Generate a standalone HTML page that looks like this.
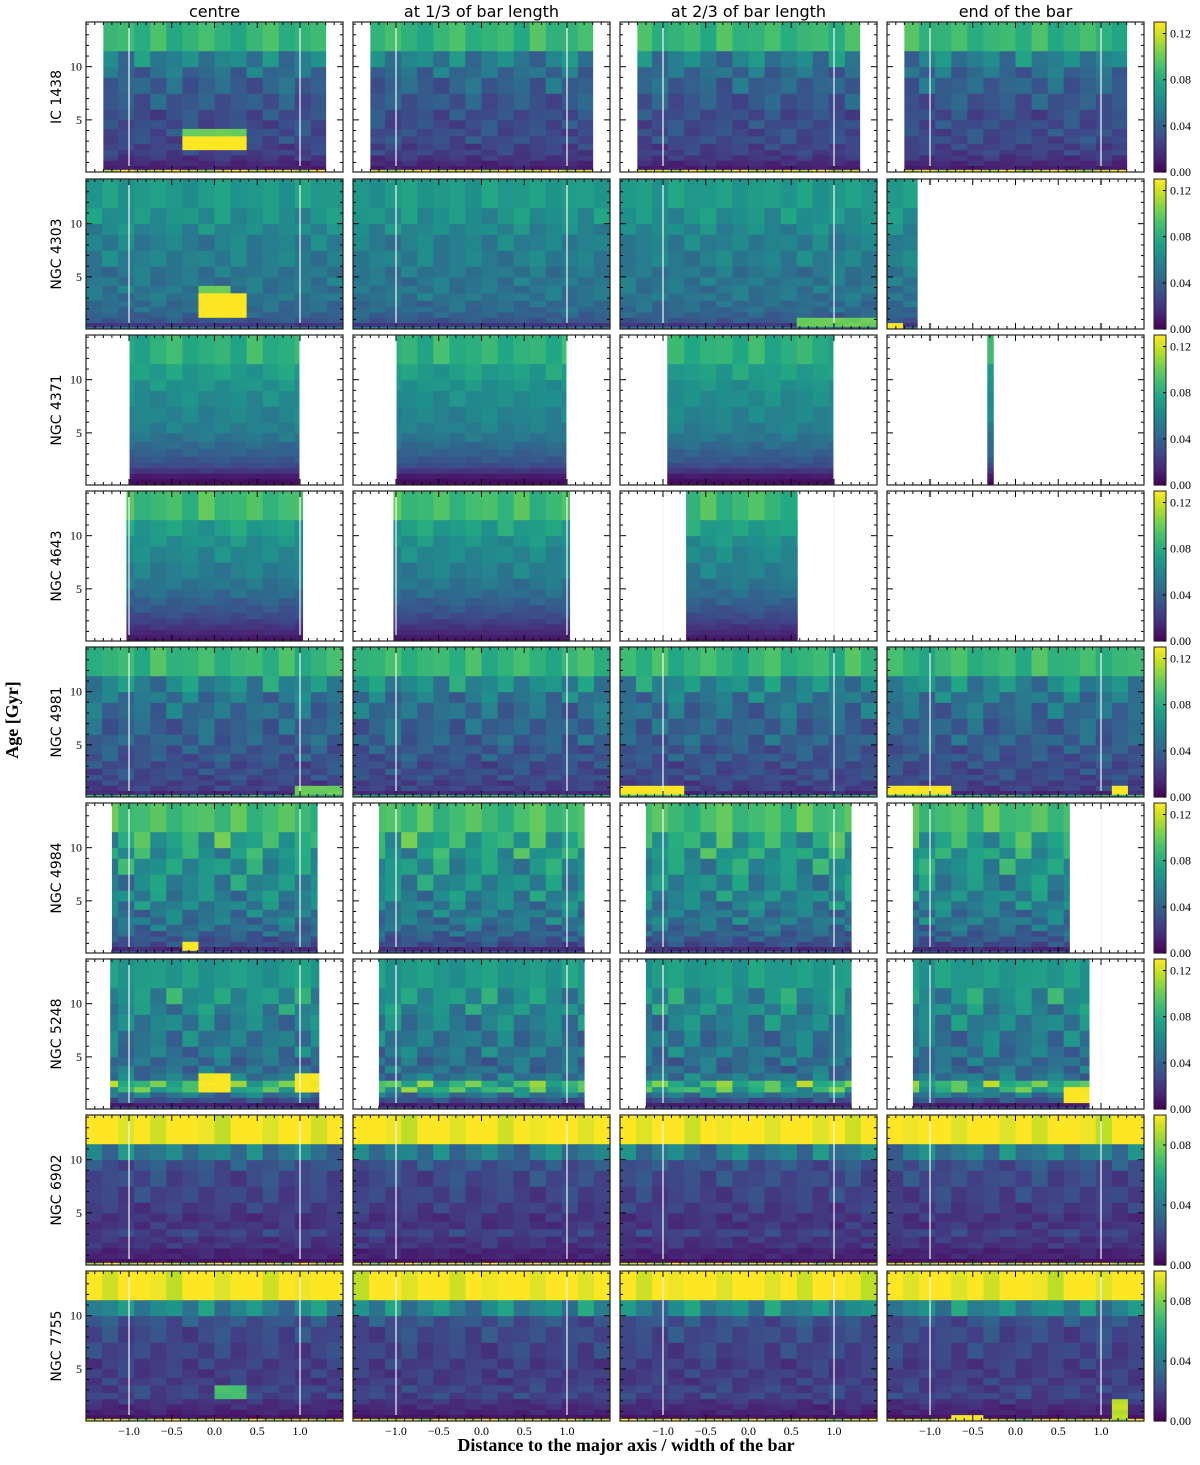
<!DOCTYPE html>
<html><head><meta charset="utf-8"><style>
body{margin:0;background:#fff;}
.sans{font-family:"DejaVu Sans","Liberation Sans",sans-serif;}
.serif{font-family:"Liberation Serif",serif;}
</style></head><body>
<svg id="fig" width="1200" height="1460" viewBox="0 0 1200 1460" xmlns="http://www.w3.org/2000/svg"></svg>
<script>
// ---- data ----
const galaxies = ["IC 1438","NGC 4303","NGC 4371","NGC 4643","NGC 4981","NGC 4984","NGC 5248","NGC 6902","NGC 7755"];
const columnTitles = ["centre","at 1/3 of bar length","at 2/3 of bar length","end of the bar"];
const ageEdges = [0.1,0.35,0.7,1.2,1.7,2.2,2.8,3.5,4.2,5,6,7.5,9,10,11.5,14.2];
const xEdgesCount = 16;
const cbarMax = [0.13,0.13,0.13,0.13,0.13,0.13,0.13,0.1,0.1];
const cbarTicks = [[0,0.04,0.08,0.12],[0,0.04,0.08,0.12],[0,0.04,0.08,0.12],[0,0.04,0.08,0.12],[0,0.04,0.08,0.12],[0,0.04,0.08,0.12],[0,0.04,0.08,0.12],[0,0.04,0.08],[0,0.04,0.08]];
const xTicks = [-1.0,-0.5,0.0,0.5,1.0];
const xTickLabels = ["\u22121.0","\u22120.5","0.0","0.5","1.0"];
const yTicks = [5,10];
// age profiles (young -> old), one per galaxy row
const profiles = [
 [0.12,0.01,0.015,0.02,0.025,0.025,0.03,0.03,0.03,0.03,0.035,0.04,0.045,0.055,0.085],
 [0.05,0.02,0.035,0.04,0.045,0.045,0.05,0.05,0.05,0.05,0.055,0.055,0.06,0.065,0.07],
 [0.005,0.005,0.01,0.02,0.03,0.035,0.04,0.045,0.05,0.055,0.058,0.062,0.066,0.072,0.082],
 [0.005,0.01,0.015,0.02,0.025,0.03,0.035,0.04,0.045,0.05,0.055,0.06,0.065,0.072,0.088],
 [0.08,0.015,0.025,0.025,0.03,0.03,0.03,0.035,0.035,0.04,0.04,0.045,0.05,0.06,0.085],
 [0.03,0.015,0.03,0.035,0.04,0.045,0.05,0.05,0.055,0.058,0.06,0.065,0.07,0.075,0.09],
 [0.03,0.01,0.03,0.05,0.08,0.085,0.05,0.045,0.045,0.05,0.05,0.055,0.06,0.065,0.07],
 [0.09,0.005,0.01,0.01,0.015,0.015,0.02,0.015,0.015,0.018,0.02,0.022,0.025,0.04,0.1],
 [0.09,0.005,0.01,0.012,0.015,0.02,0.02,0.018,0.018,0.018,0.02,0.022,0.025,0.045,0.1]
];
// patchiness amplitude per galaxy row
const rowPatchiness = [1.5,0.8,0.5,0.6,1.5,1.5,1.5,1.5,1.5];
// spatial extent of data per panel [row][col] = [xmin,xmax] or null
const extents = [
 [[-1.3,1.3],[-1.3,1.3],[-1.3,1.3],[-1.3,1.3]],
 [[-1.5,1.5],[-1.5,1.5],[-1.5,1.5],[-1.5,-1.15]],
 [[-1.0,1.0],[-1.0,1.0],[-0.95,1.0],[-0.33,-0.26]],
 [[-1.03,1.03],[-1.03,1.03],[-0.73,0.57],null],
 [[-1.5,1.5],[-1.5,1.5],[-1.5,1.5],[-1.5,1.5]],
 [[-1.2,1.2],[-1.2,1.2],[-1.2,1.2],[-1.2,0.63]],
 [[-1.22,1.22],[-1.2,1.2],[-1.2,1.2],[-1.2,0.86]],
 [[-1.5,1.5],[-1.5,1.5],[-1.5,1.5],[-1.5,1.5]],
 [[-1.5,1.5],[-1.5,1.5],[-1.5,1.5],[-1.5,1.5]]
];
// patchiness factors
const colFactors = [1.1,0.9,1.2,0.85,1.0,1.15,0.95,0.8,1.05,1.2,0.9,1.0,1.1,0.85,1.25,0.95,1.0,1.15,0.9,1.05];
// hot spots: [row,col,ageMin,ageMax,xMin,xMax,value]
const hotSpots = [
 [0,0,2.2,3.5,-0.4,0.45,0.135],[0,0,3.5,4.2,-0.4,0.45,0.1],
 [1,0,1.2,3.5,-0.2,0.3,0.14],[1,0,3.5,4.2,-0.1,0.2,0.1],[1,2,0.35,1.2,0.6,1.5,0.1],[1,3,0.1,0.7,-1.5,-1.3,0.13],
 [4,2,0.35,1.2,-1.5,-0.8,0.13],[4,3,0.35,1.2,-1.5,-0.8,0.13],[4,3,0.35,1.2,1.1,1.3,0.13],[4,0,0.35,1.2,0.9,1.5,0.1],
 [5,0,0.35,1.2,-0.35,-0.1,0.13],
 [6,0,1.7,3.5,-0.15,0.2,0.13],[6,0,1.7,3.5,1.0,1.22,0.13],[6,3,0.7,2.2,0.6,0.86,0.13],
 [8,0,2.2,3.5,0,0.3,0.07],[8,3,0.1,0.7,-0.75,-0.3,0.1],[8,3,0.35,2.2,1.1,1.3,0.09]
];
// ---- layout ----
const NS="http://www.w3.org/2000/svg";
const svg=document.getElementById('fig');
const panelX=[86,353,620,887], panelW=257, panelH=150;
const rowY=[22,179,335,491,647,803,959,1115,1271];
const XMIN=-1.503, XMAX=1.503, YMIN=0.1, YMAX=14.2;
function el(tag,attrs,parent){const e=document.createElementNS(NS,tag);for(const k in attrs)e.setAttribute(k,attrs[k]);(parent||svg).appendChild(e);return e;}
const V=[[68,1,84],[72,35,116],[64,67,135],[52,94,141],[41,120,142],[32,144,140],[34,167,132],[68,190,112],[121,209,81],[189,222,38],[253,231,37]];
function viridis(t){t=Math.max(0,Math.min(1,t));const p=t*(V.length-1),i=Math.min(Math.floor(p),V.length-2),f=p-i;const c=V[i].map((a,k)=>Math.round(a+(V[i+1][k]-a)*f));return `rgb(${c[0]},${c[1]},${c[2]})`;}
const nBins=ageEdges.length-1;
for(let r=0;r<9;r++){
 const y0=rowY[r];
 const sy=a=>y0+panelH*(YMAX-a)/(YMAX-YMIN);
 for(let c=0;c<4;c++){
  const x0=panelX[c];
  const sx=v=>x0+panelW*(v-XMIN)/(XMAX-XMIN);
  const g=el('g',{},svg);
  
  
  const ext=extents[r][c];
  if(ext){
   const dx=(XMAX-XMIN)/xEdgesCount;
   for(let i=0;i<xEdgesCount;i++){
    let a=XMIN+i*dx,b=a+dx;
    a=Math.max(a,ext[0]);b=Math.min(b,ext[1]);
    if(b<=a)continue;
    const xm=(a+b)/2;
    for(let j=0;j<nBins;j++){
     const f=colFactors[(i+r*3+c*5+j*7)%20];
     const amp=(j===0||j===nBins-1)?0.5:rowPatchiness[r];
     let v=profiles[r][j]*(1+(f-1)*amp);
     const am=(ageEdges[j]+ageEdges[j+1])/2;
     for(const h of hotSpots){if(h[0]===r&&h[1]===c&&am>=h[2]&&am<=h[3]&&xm>=h[4]&&xm<=h[5])v=h[6]*(0.9+0.1*f);}
     const rect=el('rect',{x:sx(a),y:sy(ageEdges[j+1]),width:sx(b)-sx(a)+0.5,height:sy(ageEdges[j])-sy(ageEdges[j+1])+0.5,fill:viridis(v/cbarMax[r])},g);
     
     
    }
   }
  }
  const wide=ext&&ext[1]-ext[0]>1;
  for(const xv of [-1,1]){
   if(wide){
    const ln=el('line',{x1:sx(xv),x2:sx(xv),y1:y0,y2:y0+panelH,stroke:'#f4f4f4','stroke-width':1.2},g);
    
    
   } else {
    el('line',{x1:sx(xv),x2:sx(xv),y1:y0,y2:y0+6,stroke:'#bbb','stroke-width':2.5},g);
    el('line',{x1:sx(xv),x2:sx(xv),y1:y0+panelH-6,y2:y0+panelH,stroke:'#bbb','stroke-width':2.5},g);
   }
  }
  for(let k=-14;k<=14;k++){const v=k/10;if(Math.abs(v)>1.5)continue;const major=k%5===0;const L=major?6:3;
   el('line',{x1:sx(v),x2:sx(v),y1:y0,y2:y0+L,stroke:'#000','stroke-width':1},g);
   el('line',{x1:sx(v),x2:sx(v),y1:y0+panelH,y2:y0+panelH-L,stroke:'#000','stroke-width':1},g);}
  for(let a=1;a<=14;a++){const L=(a%5===0)?6:3;
   el('line',{x1:x0,x2:x0+L,y1:sy(a),y2:sy(a),stroke:'#000','stroke-width':1},g);
   el('line',{x1:x0+panelW,x2:x0+panelW-L,y1:sy(a),y2:sy(a),stroke:'#000','stroke-width':1},g);}
  el('rect',{x:x0,y:y0,width:panelW,height:panelH,fill:'none',stroke:'#222','stroke-width':1.2},g);
  if(c===0){for(const t of yTicks){const tx=el('text',{x:x0-4,y:sy(t)+4,'text-anchor':'end','font-size':12,class:'serif'},g);tx.textContent=t;}}
  if(r===8){xTicks.forEach((t,k)=>{const tx=el('text',{x:sx(t),y:y0+panelH+14,'text-anchor':'middle','font-size':12,class:'serif'},g);tx.textContent=xTickLabels[k];});}
  if(r===0){const tt=el('text',{x:x0+panelW/2,y:17,'text-anchor':'middle','font-size':16,class:'sans'},g);tt.textContent=columnTitles[c];}
 }
 const lab=el('text',{x:0,y:0,'text-anchor':'middle','font-size':14,class:'sans',transform:`translate(61,${y0+panelH/2}) rotate(-90)`});
 
 
 lab.textContent=galaxies[r];
 const cb=el('g',{});
 
 
 const N=60,cx=1154,cw=12;
 for(let k=0;k<N;k++){el('rect',{x:cx,y:y0+panelH*(1-(k+1)/N),width:cw,height:panelH/N+0.6,fill:viridis((k+0.5)/N)},cb);}
 el('rect',{x:cx,y:y0,width:cw,height:panelH,fill:'none',stroke:'#222','stroke-width':1},cb);
 for(const t of cbarTicks[r]){const yy=y0+panelH*(1-t/cbarMax[r]);
  el('line',{x1:cx+cw-3,x2:cx+cw,y1:yy,y2:yy,stroke:'#000'},cb);
  const tx=el('text',{x:cx+cw+4,y:yy+4,'font-size':12,class:'serif'},cb);tx.textContent=t.toFixed(2);}
}
const yl=el('text',{x:0,y:0,'text-anchor':'middle','font-size':18,'font-weight':'bold',class:'serif',transform:'translate(18,720) rotate(-90)'});


yl.textContent='Age [Gyr]';
const xl=el('text',{x:626,y:1451,'text-anchor':'middle','font-size':18,'font-weight':'bold',class:'serif'});


xl.textContent='Distance to the major axis / width of the bar';
</script>
</body></html>
